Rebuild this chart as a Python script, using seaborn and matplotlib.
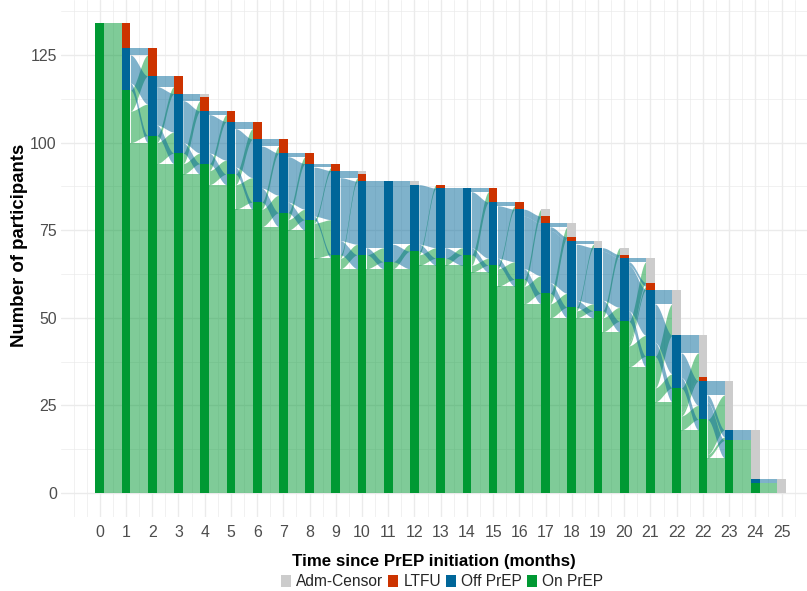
import numpy as np
import pandas as pd
import matplotlib
matplotlib.use("Agg")
import matplotlib.pyplot as plt
from matplotlib.patches import Patch
from matplotlib.ticker import MultipleLocator
import seaborn as sns

# labels under each column (22 shows up twice in the original)
month_labels = ["0", "1", "2", "3", "4", "5", "6", "7", "8", "9", "10", "11",
                "12", "13", "14", "15", "16", "17", "18", "19", "20", "21",
                "22", "22", "23", "24", "25"]

# participants in each state at each column
on_prep = [134, 115, 102, 97, 94, 91, 83, 80, 78, 68, 68, 66, 69, 67, 68, 65,
           61, 57, 53, 52, 49, 39, 30, 21, 15, 3, 0]
off_prep = [0, 12, 17, 17, 15, 15, 18, 17, 16, 24, 21, 23, 19, 20, 19, 18,
            20, 20, 19, 18, 18, 19, 15, 11, 3, 1, 0]
ltfu = [0, 7, 8, 5, 4, 3, 5, 4, 3, 2, 2, 0, 0, 1, 0, 4,
        2, 2, 1, 0, 1, 2, 0, 1, 0, 0, 0]
censor = [0, 0, 0, 0, 1, 0, 0, 0, 0, 0, 1, 0, 1, 0, 0, 0,
          0, 2, 4, 2, 2, 7, 13, 12, 14, 14, 4]

# transitions between neighbouring columns (estimated from the flows)
on_to_off = [12, 9, 6, 3, 4, 7, 5, 3, 10, 3, 4, 2, 3, 2, 2, 5, 5, 4, 2, 4, 6, 4, 4, 1, 1, 0]
off_to_on = [0, 2, 3, 3, 3, 2, 4, 3, 1, 4, 2, 5, 2, 3, 2, 2, 3, 3, 2, 3, 3, 4, 3, 5, 0, 0]
off_to_ltfu = [0, 2, 3, 1, 1, 2, 2, 1, 1, 1, 0, 0, 0, 0, 1, 1, 2, 1, 0, 1, 1, 0, 0, 0, 0, 0]
off_to_censor = [0, 0, 0, 1, 0, 0, 0, 0, 0, 1, 0, 1, 0, 0, 0, 0, 0, 1, 1, 0, 1, 4, 5, 4, 3, 1]

legend_order = ["Adm-Censor", "LTFU", "Off PrEP", "On PrEP"]
stack_order = ["On PrEP", "Off PrEP", "LTFU", "Adm-Censor"]  # bottom -> top
colors = {"Adm-Censor": "#CCCCCC", "LTFU": "#CC3300",
          "Off PrEP": "#006699", "On PrEP": "#009933"}

sns.set_theme(style="whitegrid")
plt.rcParams["font.family"] = ["Liberation Sans", "DejaVu Sans"]

fig = plt.figure(figsize=(8.07, 5.91), dpi=100)
ax = fig.add_axes([61 / 807, 1 - 516.5 / 591, 746 / 807, 516.5 / 591])

n = len(on_prep)
pos = np.arange(n)
width = 1 / 3


def band(x0, x1, lo0, hi0, lo1, hi1, color):
    u = np.linspace(0, 1, 80)
    s = u * u * (3 - 2 * u)
    xs = x0 + (x1 - x0) * u
    ax.fill_between(xs, lo0 + (lo1 - lo0) * s, hi0 + (hi1 - hi0) * s,
                    color=color, alpha=0.5, linewidth=0, zorder=0.8)


# flows
for t in range(n - 1):
    moves = {
        ("On PrEP", "On PrEP"): on_prep[t + 1] - off_to_on[t],
        ("On PrEP", "Off PrEP"): on_to_off[t],
        ("On PrEP", "LTFU"): ltfu[t + 1] - off_to_ltfu[t],
        ("On PrEP", "Adm-Censor"): censor[t + 1] - off_to_censor[t],
        ("Off PrEP", "On PrEP"): off_to_on[t],
        ("Off PrEP", "Off PrEP"): off_prep[t + 1] - on_to_off[t],
        ("Off PrEP", "LTFU"): off_to_ltfu[t],
        ("Off PrEP", "Adm-Censor"): off_to_censor[t],
    }
    src_y = {"On PrEP": 0, "Off PrEP": on_prep[t]}
    nxt = [on_prep[t + 1], off_prep[t + 1], ltfu[t + 1], censor[t + 1]]
    tgt_y = dict(zip(stack_order, np.concatenate([[0], np.cumsum(nxt)[:-1]])))
    for src in ["On PrEP", "Off PrEP"]:
        for dst in stack_order:
            k = moves[(src, dst)]
            if k <= 0:
                continue
            band(t + width / 2, t + 1 - width / 2,
                 src_y[src], src_y[src] + k, tgt_y[dst], tgt_y[dst] + k,
                 colors[src])
            src_y[src] += k
            tgt_y[dst] += k

# strata
strata = pd.DataFrame({
    "pos": np.tile(pos, 4),
    "state": np.repeat(stack_order, n),
    "count": np.concatenate([on_prep, off_prep, ltfu, censor]),
})
sns.histplot(data=strata, x="pos", hue="state", weights="count",
             multiple="stack", discrete=True, shrink=width,
             hue_order=legend_order, palette=colors, alpha=1,
             linewidth=0, legend=False, ax=ax)
for p in ax.patches:
    p.set_zorder(2)

ax.set_xlim(-1.48, 26.97)
ax.set_ylim(-6.7, 140.7)
ax.set_xticks(pos)
ax.set_xticklabels(month_labels)
ax.set_yticks([0, 25, 50, 75, 100, 125])
ax.xaxis.set_minor_locator(MultipleLocator(0.5))
ax.yaxis.set_minor_locator(MultipleLocator(12.5))
ax.set_axisbelow(True)
ax.grid(which="major", color="#EBEBEB", linewidth=1.0)
ax.grid(which="minor", color="#EBEBEB", linewidth=0.5)
for sp in ax.spines.values():
    sp.set_visible(False)
ax.tick_params(which="both", length=0, labelsize=11.4, labelcolor="#4D4D4D")
ax.tick_params(axis="x", pad=6)
ax.tick_params(axis="y", pad=3)

ax.set_xlabel("Time since PrEP initiation (months)", fontsize=12.2,
              fontweight="bold", color="black", labelpad=10)
ax.set_ylabel("Number of participants", fontsize=13.4,
              fontweight="bold", color="black")
ax.yaxis.set_label_coords(-0.044, (516.5 - 245) / 516.5)

handles = [Patch(facecolor=colors[s], edgecolor="none", label=s) for s in legend_order]
fig.legend(handles=handles, loc="center", bbox_to_anchor=(442 / 807, 1 - 582 / 591),
           ncol=4, frameon=False, fontsize=11.2, handlelength=0.65,
           handleheight=0.8, handletextpad=0.35, columnspacing=0.3,
           borderpad=0, borderaxespad=0)

fig.savefig("out.png", dpi=100)
